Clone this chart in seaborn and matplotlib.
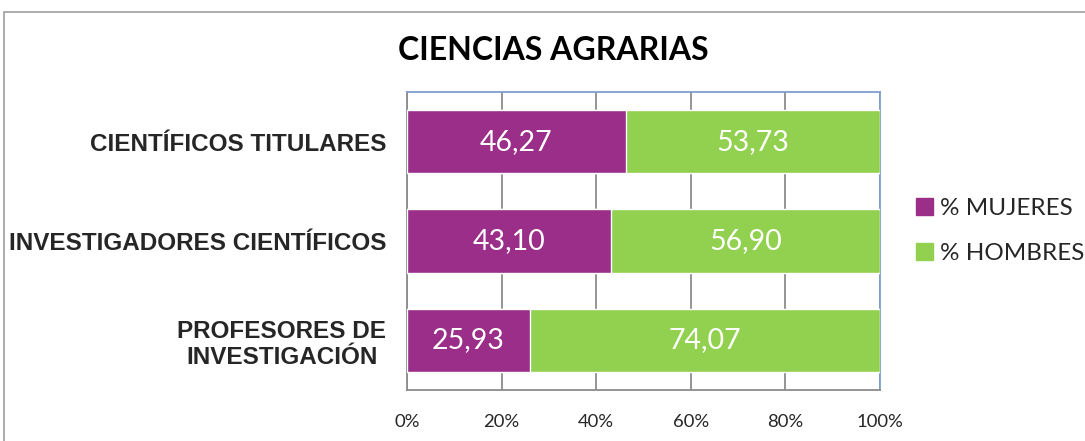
import matplotlib
matplotlib.use("Agg")
import matplotlib.pyplot as plt
import seaborn as sns
import pandas as pd
from matplotlib.patches import Rectangle

categorias = ["CIENTÍFICOS TITULARES", "INVESTIGADORES CIENTÍFICOS", "PROFESORES DE\nINVESTIGACIÓN"]
mujeres = [46.27, 43.10, 25.93]
hombres = [53.73, 56.90, 74.07]
ticks = [0, 20, 40, 60, 80, 100]
tick_labels = ["0%", "20%", "40%", "60%", "80%", "100%"]
titulo = "CIENCIAS AGRARIAS"
serie_names = ["% MUJERES", "% HOMBRES"]

c_muj = "#9A2E89"
c_hom = "#92D050"

sns.set_theme(style="white")
plt.rcParams['font.family'] = ['Lato', 'DejaVu Sans']

df = pd.DataFrame({"cat": categorias, "muj": mujeres, "hom": hombres})
df["total"] = df["muj"] + df["hom"]

fig = plt.figure(figsize=(10.85, 4.41), dpi=100)
ax = fig.add_axes([407/1085, 1-390/441, (880-407)/1085, (390-92)/441])

sns.barplot(data=df, y="cat", x="total", color=c_hom, orient="h", width=0.64,
            saturation=1, ax=ax, zorder=3)
sns.barplot(data=df, y="cat", x="muj", color=c_muj, orient="h", width=0.64,
            saturation=1, ax=ax, zorder=3)

cont_muj = ax.containers[1]
ax.bar_label(cont_muj, labels=[f"{v:.2f}".replace(".", ",") for v in mujeres],
             label_type="center", color="white", fontsize=20.5)
for i, (m, h) in enumerate(zip(mujeres, hombres)):
    ax.text(m + h / 2, i, f"{h:.2f}".replace(".", ","), ha="center", va="center",
            color="white", fontsize=20.5)

ax.set_xlim(0, 100)
ax.set_ylim(2.5, -0.5)
ax.set_xticks(ticks)
ax.set_xticklabels(tick_labels, fontsize=13.3)
ax.tick_params(axis="x", length=0, pad=17)
ax.tick_params(axis="y", length=0, pad=15)
ax.set_yticklabels(categorias, fontsize=17.5, fontweight="bold", family=["Liberation Sans"],
                   linespacing=1.15)
for lab in ax.get_yticklabels():
    lab.set_horizontalalignment("right")
    lab.set_multialignment("center")
ax.set_xlabel("")
ax.set_ylabel("")
ax.grid(axis="x", color="#8C8C8C", linewidth=1.3, zorder=0)
ax.set_axisbelow(True)
for s in ["left", "bottom"]:
    ax.spines[s].set_color("#8C8C8C")
    ax.spines[s].set_linewidth(1.3)
for s in ["top", "right"]:
    ax.spines[s].set_color("#7F9FCF")
    ax.spines[s].set_linewidth(1.3)

fig.text(553/1085, 1-50/441, titulo, ha="center", va="center", fontsize=23,
         fontweight="bold", color="black")

handles = [Rectangle((0, 0), 1, 1, color=c_muj), Rectangle((0, 0), 1, 1, color=c_hom)]
fig.legend(handles, serie_names, loc="upper left", bbox_to_anchor=(916/1085, 1-198/441),
           frameon=False, fontsize=17.5, handlelength=0.7, handleheight=0.7,
           handletextpad=0.3, labelspacing=1.0, borderpad=0, borderaxespad=0)

fig.add_artist(Rectangle((4/1085, -0.1), 1.2, 1 - 12/441 + 0.1, transform=fig.transFigure,
                         fill=False, edgecolor="#A6A6A6", linewidth=1.3))

fig.savefig("out.png", dpi=100)
